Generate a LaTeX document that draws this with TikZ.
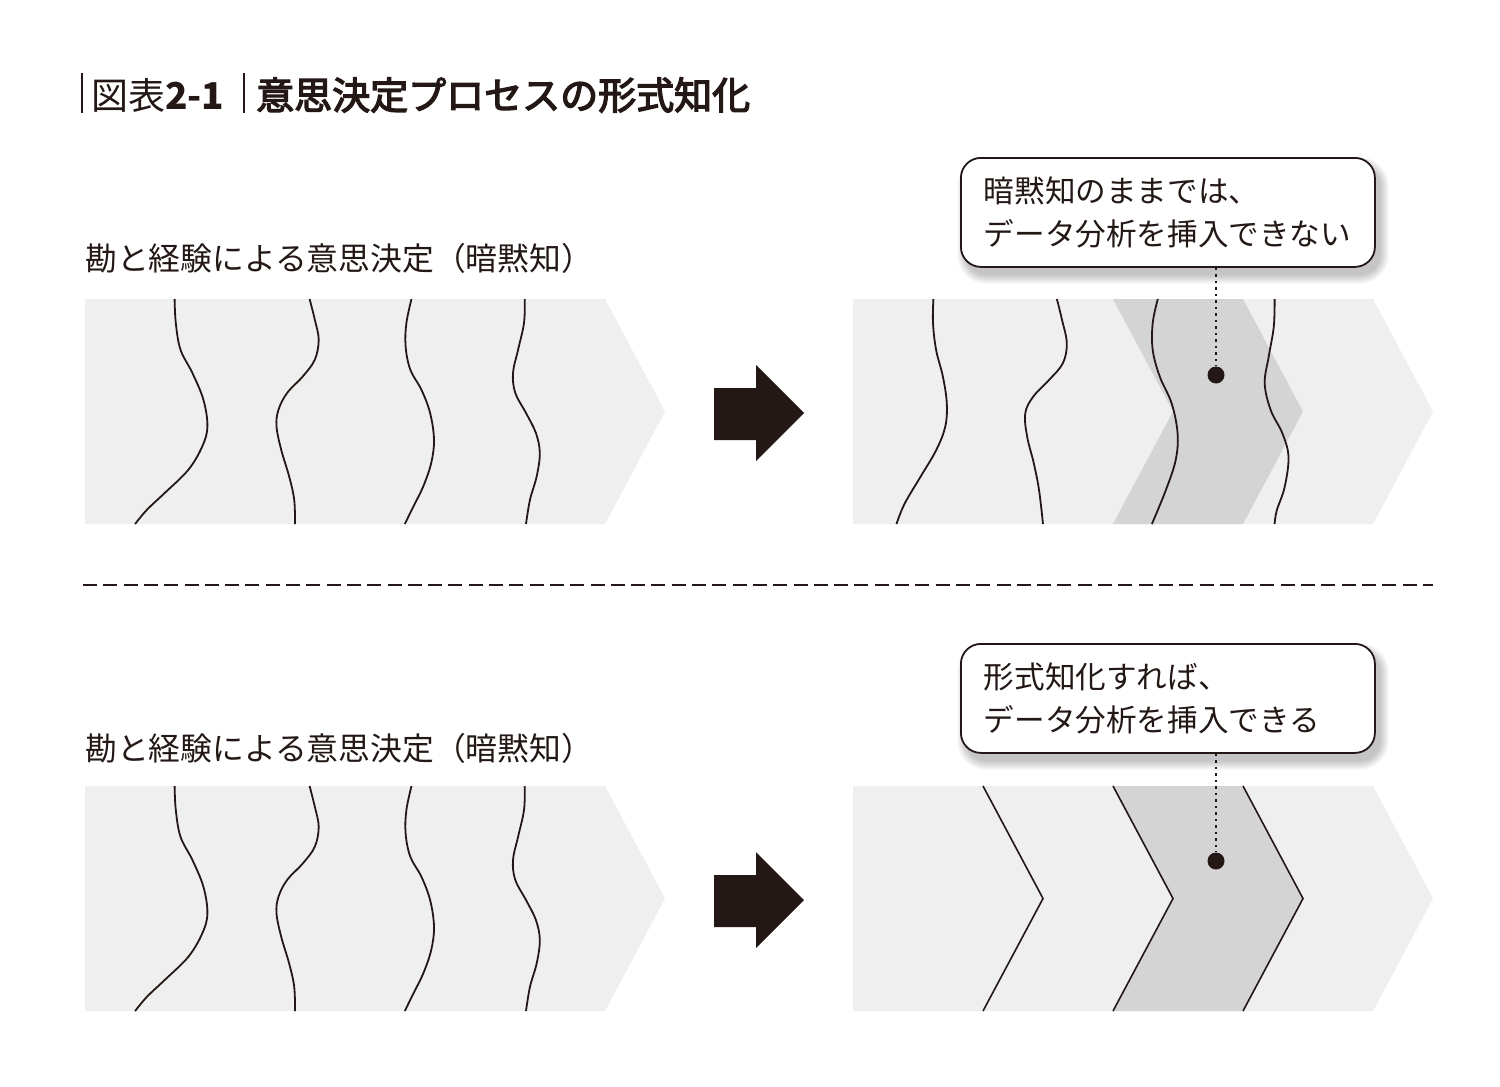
\documentclass[tikz,border=0pt]{standalone}
\usepackage{fontspec}
\setmainfont{Noto Sans CJK JP}
\newfontfamily\titlefont{Noto Sans CJK JP}[FakeBold=3.5]
\definecolor{ink}{HTML}{231815}
\definecolor{lightg}{HTML}{EFEFEF}
\definecolor{darkg}{HTML}{D4D4D4}
\tikzset{
  wave/.style={draw=ink, line width=1.8pt},
  flatline/.style={draw=ink, line width=1.6pt},
  chevlight/.style={fill=lightg},
  chevdark/.style={fill=darkg},
  blockarrow/.style={fill=ink},
  callout/.style={draw=ink, line width=1.8pt, fill=white, rounded corners=20pt,
    minimum width=414pt, minimum height=109pt, text width=368pt, inner xsep=23pt,
    align=left, font=\fontsize{30.6}{43}\selectfont, text=ink, anchor=north west},
  dotpt/.style={circle, fill=ink, minimum size=17pt, inner sep=0pt},
  leader/.style={draw=ink, line width=2.2pt, dash pattern=on 2.2pt off 4.3pt},
  lab/.style={anchor=west, inner sep=0pt, font=\fontsize{31.8}{31.8}\selectfont, text=ink},
  sep/.style={draw=ink, line width=2pt, dash pattern=on 14pt off 6.3pt},
  titlebar/.style={draw=ink, line width=1.5pt},
}
\begin{document}
\begin{tikzpicture}[x=1pt,y=-1pt]
\fill[white] (0,0) rectangle (1500,1087);
\useasboundingbox (0,0) rectangle (1500,1087);

% ---------- title ----------
\draw[titlebar] (82,73) -- (82,113);
\node[anchor=west, inner sep=0pt, font=\fontsize{37}{37}\selectfont, text=ink] (t1) at (91,95) {図表{\bfseries 2-1}};
\draw[titlebar] (244,73) -- (244,113);
\node[anchor=west, inner sep=0pt, font=\fontsize{38}{38}\titlefont, text=ink] (t2) at (256,95) {意思決定プロセスの形式知化};

% ---------- labels ----------
\node[lab] (l1) at (85,258) {勘と経験による意思決定（暗黙知）};
\node[lab] (l2) at (85,748.5) {勘と経験による意思決定（暗黙知）};

% ---------- left panels (tacit) ----------
\foreach \dy in {0,487}{
\begin{scope}[shift={(0,\dy)}]
  \fill[chevlight] (85,299) -- (605,299) -- (665,411.5) -- (605,524) -- (85,524) -- cycle;
  \draw[wave] plot[smooth, tension=0.6] coordinates {(174.6,299) (175.8,323) (180.5,349.7) (192.4,373) (203.4,399.7) (207.4,426.3) (202.3,446.3) (188.4,469.7) (164.7,493) (147,509.7) (135.1,524)};
  \draw[wave] plot[smooth, tension=0.6] coordinates {(309.6,299) (314.8,319.7) (318.7,339.7) (314.8,359.7) (302.9,376.3) (287.1,393) (278.5,409.7) (276.5,426.3) (281.2,449.7) (289.1,476.3) (294.2,499.7) (295,524)};
  \draw[wave] plot[smooth, tension=0.6] coordinates {(411.5,299) (406.4,323) (405.6,346.3) (410.3,369.7) (421.4,389.7) (430.1,413) (434,439.7) (431.2,463) (423.3,486.3) (413.5,506.3) (404.8,524)};
  \draw[wave] plot[smooth, tension=0.6] coordinates {(524.8,299) (524,323) (518.1,349.7) (513,373) (515.3,393) (526,413) (535.9,433) (539.8,453) (536.7,476.3) (530,499.7) (526,524)};
  % block arrow
  \fill[blockarrow] (714,388) -- (756,388) -- (756,365) -- (804,413) -- (756,461) -- (756,440) -- (714,440) -- cycle;
\end{scope}
}

% ---------- top right panel ----------
\fill[chevlight] (853,299) -- (1373,299) -- (1433,411.5) -- (1373,524) -- (853,524) -- cycle;
\fill[chevdark] (1113,299) -- (1243,299) -- (1303,411.5) -- (1243,524) -- (1113,524) -- (1173,411.5) -- cycle;
\draw[wave] plot[smooth, tension=0.6] coordinates {(933.4,299) (933,323.1) (936.1,349.9) (942.9,376.7) (946.8,403.5) (945.2,426.9) (936.1,450.3) (920.3,477.1) (904.5,503.9) (896.5,524)};
\draw[wave] plot[smooth, tension=0.6] coordinates {(1056.9,299) (1062,319.8) (1066.8,343.2) (1062.8,363.3) (1049,380) (1033.1,396.8) (1025.2,413.5) (1027.2,436.9) (1033.9,463.7) (1039.1,490.5) (1043,524)};
\draw[wave] plot[smooth, tension=0.6] coordinates {(1157.8,299) (1152.7,323.1) (1152.7,349.9) (1159.8,376.7) (1171.7,403.5) (1177.6,433.6) (1175.6,460.4) (1165.7,490.5) (1151.9,524)};
\draw[wave] plot[smooth, tension=0.6] coordinates {(1274.6,299) (1273.8,326.5) (1268.7,356.6) (1264.7,383.4) (1270.7,410.1) (1282.5,433.6) (1288.5,457) (1284.6,487.2) (1276.7,510.6) (1274.6,524)};

% ---------- bottom right panel ----------
\begin{scope}[shift={(0,487)}]
  \fill[chevlight] (853,299) -- (1373,299) -- (1433,411.5) -- (1373,524) -- (853,524) -- cycle;
  \fill[chevdark] (1113,299) -- (1243,299) -- (1303,411.5) -- (1243,524) -- (1113,524) -- (1173,411.5) -- cycle;
  \draw[flatline] (983,299) -- (1043,411.5) -- (983,524);
  \draw[flatline] (1113,299) -- (1173,411.5) -- (1113,524);
  \draw[flatline] (1243,299) -- (1303,411.5) -- (1243,524);
\end{scope}

% ---------- separator ----------
\draw[sep] (83,585) -- (1433,585);

% ---------- callouts ----------
\foreach \oy in {157,643}{
  \foreach \k in {0,...,9}{
    \pgfmathsetmacro\rr{20+\k}
    \fill[black, opacity=0.025, rounded corners=\rr pt] (966-\k,\oy+9-\k) rectangle (1380+\k,\oy+118+\k);
  }
}
\node[callout] (c1) at (960,157) {暗黙知のままでは、\\データ分析を挿入できない};
\node[callout] (c2) at (960,643) {形式知化すれば、\\データ分析を挿入できる};

\node[dotpt] (d1) at (1216,375) {};
\node[dotpt] (d2) at (1216,861) {};
\draw[leader] (d1 |- c1.south) -- (d1);
\draw[leader] (d2 |- c2.south) -- (d2);
\end{tikzpicture}
\end{document}
